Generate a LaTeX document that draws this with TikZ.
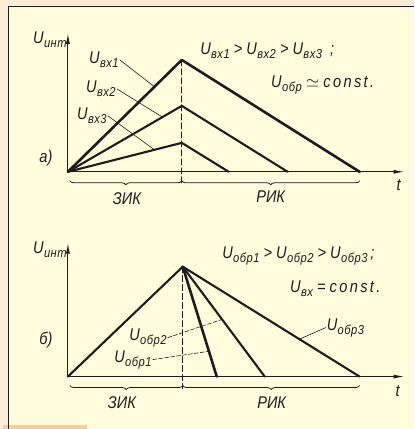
\documentclass[tikz,border=0pt]{standalone}
\usepackage{fontspec}
\setmainfont{Liberation Sans}[FakeStretch=0.86]
\usetikzlibrary{arrows.meta,decorations.pathreplacing,positioning,calc}

\definecolor{pagepeach}{RGB}{252,236,216}
\definecolor{panelyellow}{RGB}{255,252,222}
\definecolor{tabamber}{RGB}{252,206,140}
\definecolor{inkgray}{RGB}{28,28,28}

\newcommand{\Usb}[1]{U\kern0.3pt\raisebox{-4pt}{\fontsize{13}{15}\selectfont\addfontfeature{LetterSpace=4}#1}}
\newcommand{\cst}{{\addfontfeature{LetterSpace=14}const.}}

\begin{document}
\begin{tikzpicture}[x=1pt,y=-1pt,line cap=round,line join=round,
        font=\fontsize{17}{20}\selectfont\itshape,color=inkgray,
        axis/.style={line width=1.1pt,-{Latex[length=11pt,width=4pt]}},
        ramp/.style={line width=2.1pt},
        guide/.style={line width=0.9pt,dash pattern=on 6pt off 3pt},
        leader/.style={line width=0.6pt},
        span/.style={decorate,decoration={brace,mirror,amplitude=4pt},line width=0.8pt}]
    \fill[pagepeach] (0,0) rectangle (414,429);
    \fill[panelyellow] (9,7) rectangle (414,429);
    \fill[tabamber] (3,425) rectangle (87,429);
    \draw[line width=1pt] (9,429) -- (9,7) -- (414,7);
    \useasboundingbox (0,0) rectangle (414,429);

    % a)
    \coordinate (Oa) at (68,172);
    \coordinate (Ya) at (68,33);
    \coordinate (Ta) at (405,172);
    \coordinate (Pa1) at (182,60);
    \coordinate (Pa2) at (182,106);
    \coordinate (Pa3) at (182,143);
    \coordinate (Ea1) at (360,172);
    \coordinate (Ea2) at (288,172);
    \coordinate (Ea3) at (229,172);
    \coordinate (Da) at (182,184);
    \draw[axis] (Oa) -- (Ya);
    \draw[axis] (Oa) -- (Ta);
    \draw[guide] (Pa1) -- (Da);
    \draw[ramp,line width=2.6pt] (Oa) -- (Pa1) -- (Ea1);
    \draw[ramp] (Oa) -- (Pa2) -- (Ea2);
    \draw[ramp] (Oa) -- (Pa3) -- (Ea3);

    \node[anchor=north east,inner sep=0pt] (uinta) at (67,32) {\Usb{инт}};
    \node[anchor=east,inner sep=1pt] (ua1) at (120,60) {\Usb{вх1}};
    \node[anchor=east,inner sep=1pt] (ua2) at (117,89) {\Usb{вх2}};
    \node[anchor=east,inner sep=1pt] (ua3) at (108,116) {\Usb{вх3}};
    \draw[leader] (ua1.east) -- ($(Oa)!0.76!(Pa1)$);
    \draw[leader] (ua2.east) -- ($(Oa)!0.83!(Pa2)$);
    \draw[leader] (ua3.east) -- ($(Oa)!0.76!(Pa3)$);
    \node (taga) at (46,158) {а)};
    \node (ta) at (399,185) {t};
    \node[anchor=west] (rela) at (197,51) {\Usb{вх1} > \Usb{вх2} > \Usb{вх3}\ \ ;};
    \node[anchor=west] (consta) at (268,85) {\Usb{обр} $\simeq$ \cst};

    \draw[span] (70,181) -- (182,181);
    \draw[span] (182,181) -- (360,181);
    \node (zika) at (127,199) {ЗИК};
    \node (rika) at (271,197) {РИК};

    % б)
    \coordinate (Ob) at (68,377);
    \coordinate (Yb) at (68,243);
    \coordinate (Tb) at (405,377);
    \coordinate (Pb) at (183,267);
    \coordinate (Eb1) at (217,377);
    \coordinate (Eb2) at (265,377);
    \coordinate (Eb3) at (360,377);
    \coordinate (Db) at (183,389);
    \draw[axis] (Ob) -- (Yb);
    \draw[axis] (Ob) -- (Tb);
    \draw[guide] (Pb) -- (Db);
    \draw[ramp] (Ob) -- (Pb);
    \draw[ramp,line width=2.6pt] (Pb) -- (Eb1);
    \draw[ramp] (Pb) -- (Eb2);
    \draw[ramp] (Pb) -- (Eb3);

    \node[anchor=north east,inner sep=0pt] (uintb) at (67,242) {\Usb{инт}};
    \node[anchor=east,inner sep=1pt] (ub2) at (168,338) {\Usb{обр2}};
    \node[anchor=east,inner sep=1pt] (ub1) at (153,360) {\Usb{обр1}};
    \node[anchor=west,inner sep=1pt] (ub3) at (326,328) {\Usb{обр3}};
    \draw[leader,dash pattern=on 4pt off 2pt] (ub2.east) -- ($(Pb)!0.48!(Eb2)$);
    \draw[leader,dash pattern=on 4pt off 2pt] (ub1.east) -- ($(Pb)!0.77!(Eb1)$);
    \draw[leader] (ub3.west) -- ($(Pb)!0.66!(Eb3)$);
    \node (tagb) at (46,340) {б)};
    \node (tb) at (398,392) {t};
    \node[anchor=west] (relb) at (219,256) {\Usb{обр1} > \Usb{обр2} > \Usb{обр3}\,;};
    \node[anchor=west] (constb) at (287,289) {\Usb{вх} = \cst};

    \draw[span] (70,386) -- (183,386);
    \draw[span] (183,386) -- (360,386);
    \node (zikb) at (122,403) {ЗИК};
    \node (rikb) at (272,403) {РИК};
\end{tikzpicture}
\end{document}
